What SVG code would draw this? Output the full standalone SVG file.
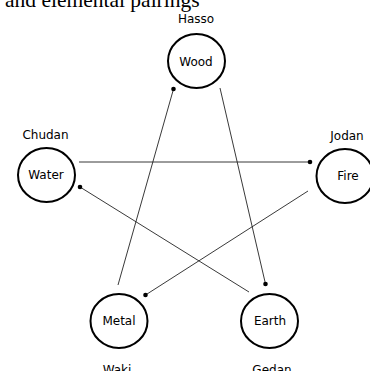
<svg xmlns="http://www.w3.org/2000/svg" width="370" height="371" viewBox="0 0 370 371">
<defs>
<marker id="dot" viewBox="0 0 6 6" refX="3" refY="3" markerWidth="6" markerHeight="6" markerUnits="userSpaceOnUse"><circle cx="3" cy="3" r="2.3" fill="#000"/></marker>
</defs>
<style>
.node{fill:#fff;stroke:#000;stroke-width:2}
.lbl{font-family:"DejaVu Sans",sans-serif;font-size:12px;fill:#000;text-anchor:middle}
.edge{stroke:#222;stroke-width:0.9;fill:none;marker-end:url(#dot)}
.title{font-family:"Liberation Serif",serif;font-size:21.5px;fill:#000}
</style>
<rect width="370" height="371" fill="#fff"/>
<text class="title" x="5" y="7">and elemental pairings</text>
<g id="connectors">
<line class="edge" x1="79" y1="162" x2="310" y2="162"/>
<line class="edge" x1="249" y1="292" x2="80" y2="187"/>
<line class="edge" x1="308" y1="191" x2="145.5" y2="295"/>
<line class="edge" x1="118" y1="285" x2="173.5" y2="89"/>
<line class="edge" x1="220" y1="88" x2="265.5" y2="284"/>
</g>
<g id="wood"><ellipse class="node" cx="196.5" cy="61" rx="28.5" ry="27"/><text class="lbl" x="196" y="65.5">Wood</text><text class="lbl" x="196" y="23">Hasso</text></g>
<g id="water"><ellipse class="node" cx="46.5" cy="175" rx="28.5" ry="27"/><text class="lbl" x="46" y="179">Water</text><text class="lbl" x="45.5" y="139">Chudan</text></g>
<g id="fire"><ellipse class="node" cx="345" cy="176" rx="28.5" ry="27"/><text class="lbl" x="348" y="180">Fire</text><text class="lbl" x="347" y="140">Jodan</text></g>
<g id="metal"><ellipse class="node" cx="119" cy="321" rx="28.5" ry="27"/><text class="lbl" x="119" y="325">Metal</text><text class="lbl" x="117" y="374">Waki</text></g>
<g id="earth"><ellipse class="node" cx="269.5" cy="321" rx="28.5" ry="27"/><text class="lbl" x="270" y="325">Earth</text><text class="lbl" x="272" y="374">Gedan</text></g>
</svg>
